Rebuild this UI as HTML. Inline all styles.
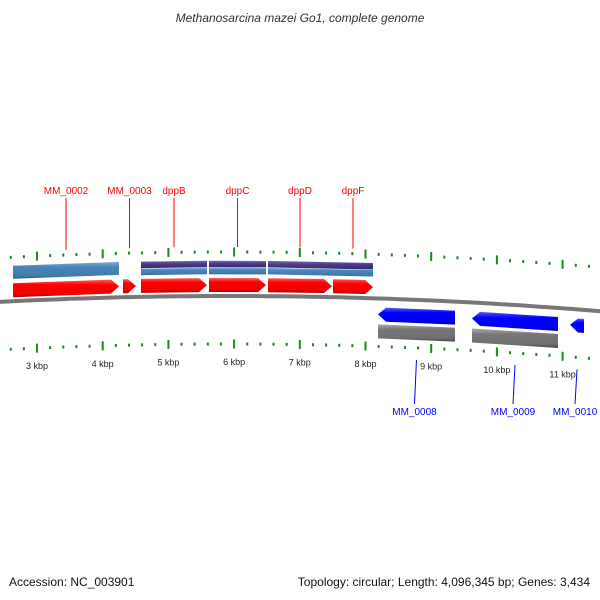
<!DOCTYPE html>
<html><head><meta charset="utf-8"><style>
body{margin:0;background:#fff;font-family:"Liberation Sans","DejaVu Sans",sans-serif}
svg{display:block}
</style></head><body>
<svg id="c" width="600" height="600" viewBox="0 0 600 600" xmlns="http://www.w3.org/2000/svg">
<defs>
<linearGradient id="gRed" x1="0" y1="0" x2="0" y2="1"><stop offset="0" stop-color="#ff5a5a"/><stop offset="0.3" stop-color="#ff0000"/><stop offset="0.8" stop-color="#f00000"/><stop offset="1" stop-color="#b00000"/></linearGradient>
<linearGradient id="gBlue" x1="0" y1="0" x2="0" y2="1"><stop offset="0" stop-color="#5a5aff"/><stop offset="0.3" stop-color="#0000ff"/><stop offset="0.8" stop-color="#0000f0"/><stop offset="1" stop-color="#0000a0"/></linearGradient>
<linearGradient id="gSteel" x1="0" y1="0" x2="0" y2="1"><stop offset="0" stop-color="#7fb0d8"/><stop offset="0.3" stop-color="#4a86b8"/><stop offset="0.85" stop-color="#3f7aab"/><stop offset="1" stop-color="#2a5578"/></linearGradient>
<linearGradient id="gPurp" x1="0" y1="0" x2="0" y2="1"><stop offset="0" stop-color="#7a6ab8"/><stop offset="0.4" stop-color="#4b3c8c"/><stop offset="1" stop-color="#33286a"/></linearGradient>
<linearGradient id="gGray" x1="0" y1="0" x2="0" y2="1"><stop offset="0" stop-color="#aaa"/><stop offset="0.3" stop-color="#777"/><stop offset="0.8" stop-color="#707070"/><stop offset="1" stop-color="#444"/></linearGradient>
</defs>
<text x="300" y="22" text-anchor="middle" font-size="12" font-style="italic" fill="#333">Methanosarcina mazei Go1, complete genome</text>
<g id="layer"></g>
<text x="9" y="586" font-size="12" fill="#111">Accession: NC_003901</text>
<text x="590" y="586" text-anchor="end" font-size="12" fill="#111">Topology: circular; Length: 4,096,345 bp; Genes: 3,434</text>
</svg>
<script>
const kbpTicks = [3,4,5,6,7,8,9,10,11];
const fwdGenes = ["MM_0002","MM_0003","dppB","dppC","dppD","dppF"];
const fwdStart = [2635,4309,4583,5618,6516,7505];
const fwdEnd = [4248,4507,5588,6486,7490,8114];
const revGenes = ["MM_0008","MM_0009","MM_0010"];
const revStart = [8190,9621,11113];
const revEnd = [9362,10930,11326];
const steelStart = [2635]; const steelEnd = [4248];
const domStart = [4583,5618,6516]; const domEnd = [5588,6486,8114];
const grayStart = [8190,9621]; const grayEnd = [9362,10930];

const NS="http://www.w3.org/2000/svg";
const L=document.getElementById('layer');
const xs = bp => 37 + (bp-3000)*0.0657;
const arc = (x,off) => 296 + off + (x-230)*(x-230)/9000;
function mk(tag,attrs){const e=document.createElementNS(NS,tag);for(const k in attrs)e.setAttribute(k,attrs[k]);L.appendChild(e);return e;}
function pts(a){return a.map(p=>p[0].toFixed(1)+","+p[1].toFixed(1)).join(" ");}
function bar(x1,x2,off,h,dir){
  const head=8;
  if(dir===1){const xb=Math.max(x1,x2-head);
    return pts([[x1,arc(x1,off)-h/2],[xb,arc(xb,off)-h/2],[x2,arc(x2,off)],[xb,arc(xb,off)+h/2],[x1,arc(x1,off)+h/2]]);}
  if(dir===-1){const xb=Math.min(x2,x1+head);
    return pts([[x1,arc(x1,off)],[xb,arc(xb,off)-h/2],[x2,arc(x2,off)-h/2],[x2,arc(x2,off)+h/2],[xb,arc(xb,off)+h/2]]);}
  return pts([[x1,arc(x1,off)-h/2],[x2,arc(x2,off)-h/2],[x2,arc(x2,off)+h/2],[x1,arc(x1,off)+h/2]]);
}
// backbone
let d="";for(let x=0;x<=600;x+=10)d+=(x?"L":"M")+x+","+arc(x,0).toFixed(1);
let bb=mk('path',{d:d,stroke:'#777',"stroke-width":4,fill:'none'});


// ticks
for(let bp=2000;bp<=12000;bp+=200){
  const x=xs(bp); if(x<5||x>598)continue;
  const major=(bp%1000===0);
  [-44,48].forEach(off=>{
    const y=arc(x,off);const h=major?9:3;
    const t=mk('rect',{x:x-1,y:y-h/2,width:2,height:h,fill:'#1a8a1a'});
    
    
  });
}
kbpTicks.forEach(k=>{const x=xs(k*1000);
  const t=mk('text',{x:x,y:arc(x,69),"text-anchor":"middle","font-size":9,fill:'#222'});t.textContent=k+" kbp";
  
  });
// steel bar
steelStart.forEach((s,i)=>{const p=mk('polygon',{points:bar(xs(s),xs(steelEnd[i]),-29,13,0),fill:'url(#gSteel)'});
  
  });
domStart.forEach((s,i)=>{const x1=xs(s),x2=xs(domEnd[i]);
  const p=mk('polygon',{points:bar(x1,x2,-32,6.5,0),fill:'url(#gPurp)'});
  
  
  const q=mk('polygon',{points:bar(x1,x2,-25,6.5,0),fill:'url(#gSteel)'});
  
  });
grayStart.forEach((s,i)=>{const p=mk('polygon',{points:bar(xs(s),xs(grayEnd[i]),33,14,0),fill:'url(#gGray)'});
  
  });
fwdGenes.forEach((g,i)=>{const x1=xs(fwdStart[i]),x2=xs(fwdEnd[i]),cx=(x1+x2)/2;
  const p=mk('polygon',{points:bar(x1,x2,-11,14,1),fill:'url(#gRed)'});
  
  
  const l=mk('line',{x1:cx,y1:198,x2:cx,y2:arc(cx,-49),stroke:'#f00',"stroke-width":1});
  
  
  const t=mk('text',{x:cx,y:194,"text-anchor":"middle","font-size":10,fill:'#f00'});t.textContent=g;
  
  });
revGenes.forEach((g,i)=>{const x1=xs(revStart[i]),x2=xs(revEnd[i]),cx=(x1+x2)/2;
  const p=mk('polygon',{points:bar(x1,x2,16,14,-1),fill:'url(#gBlue)'});
  
  
  const l=mk('line',{x1:cx,y1:arc(cx,60),x2:cx-2,y2:404,stroke:'#00f',"stroke-width":1});
  
  
  const t=mk('text',{x:cx-2,y:415,"text-anchor":"middle","font-size":10,fill:'#00f'});t.textContent=g;
  
  });
</script>
</body></html>
